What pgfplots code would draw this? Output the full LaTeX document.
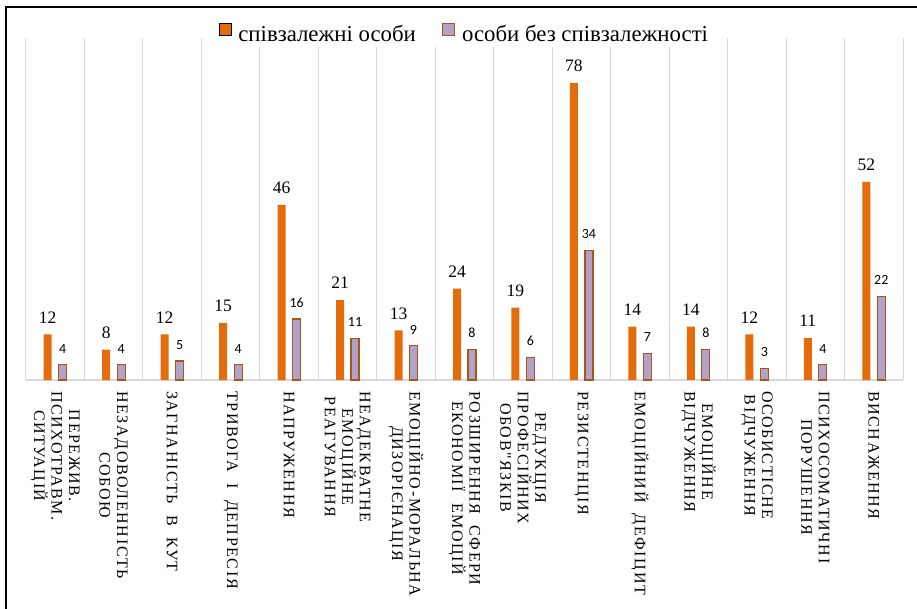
\documentclass[border=0pt]{standalone}
\usepackage{fontspec}
\usepackage{pgfplots}
\pgfplotsset{compat=1.18}
\setmainfont{Liberation Serif}
\newfontfamily\lblfont[LetterSpace=10]{Liberation Serif}
\newfontfamily\calfont{Carlito}
\definecolor{myorange}{HTML}{E46C0A}
\definecolor{mypurple}{HTML}{B3A2C7}
\definecolor{myborder}{HTML}{A8561C}
\definecolor{mygrid}{HTML}{D9D9D9}
\begin{document}
\begin{tikzpicture}
\useasboundingbox (-26pt,-228pt) rectangle (891pt,380pt);
\begin{axis}[
  at={(0pt,0pt)}, anchor=south west,
  scale only axis, width=877pt, height=342pt,
  xmin=-0.5, xmax=14.5, ymin=0, ymax=89.8,
  /pgf/number format/assume math mode=true,
  axis x line*=bottom, axis y line=none,
  x axis line style={draw=mygrid, line width=1.3pt},
  ytick=\empty,
  xtick={0,...,14},
  major tick length=0pt,
  minor xtick={-0.5,0.5,...,14.5},
  xminorgrids, minor tick length=0pt,
  minor grid style={draw=mygrid, line width=1pt},
  xticklabels={{ПЕРЕЖИВ.\\ПСИХОТРАВМ.\\СИТУАЦІЙ},{НЕЗАДОВОЛЕННІСТЬ\\СОБОЮ},{ЗАГНАНІСТЬ \ В \ КУТ},{ТРИВОГА \ І \ ДЕПРЕСІЯ},{НАПРУЖЕННЯ},{НЕАДЕКВАТНЕ\\ЕМОЦІЙНЕ\\РЕАГУВАННЯ},{ЕМОЦІЙНО-МОРАЛЬНА\\ДИЗОРІЄНАЦІЯ},{РОЗШИРЕННЯ \ СФЕРИ\\ЕКОНОМІЇ \ ЕМОЦІЙ},{РЕДУКЦІЯ\\ПРОФЕСІЙНИХ\\ОБОВ"ЯЗКІВ},{РЕЗИСТЕНЦІЯ},{ЕМОЦІЙНИЙ \ ДЕФІЦИТ},{ЕМОЦІЙНЕ\\ВІДЧУЖЕННЯ},{ОСОБИСТІСНЕ\\ВІДЧУЖЕННЯ},{ПСИХОСОМАТИЧНІ\\ПОРУШЕННЯ},{ВИСНАЖЕННЯ}},
  xticklabel style={rotate=-90, anchor=west, align=center, inner sep=0pt,
    font=\lblfont\fontsize{16}{17.5}\selectfont},
  xticklabel shift=11pt,
  ybar, bar width=8pt,
  every axis plot post/.append style={legend image code/.code={\draw[##1,/tikz/.cd,yshift=0pt] (0pt,-1pt) rectangle (12pt,11pt);}},
  legend style={at={(0.5,1)}, anchor=center, yshift=4pt, draw=none, fill=white,
    legend columns=2, font=\fontsize{22.8}{26}\selectfont,
    nodes={inner sep=2pt},
    /tikz/every even column/.append style={column sep=24pt},
    /tikz/every odd column/.append style={column sep=5pt}},
  legend cell align=left,
]
\addplot[fill=myorange, draw=none, bar shift=-7.5pt,
  nodes near coords,
  every node near coord/.append style={font=\fontsize{17.5}{20}\selectfont, anchor=south, inner sep=0pt, yshift=11pt, text=black}]
  coordinates {(0,12) (1,8) (2,12) (3,15) (4,46) (5,21) (6,13) (7,24) (8,19) (9,78) (10,14) (11,14) (12,12) (13,11) (14,52)};
\addlegendentry{співзалежні особи}
\addplot[fill=mypurple, draw=myborder, line width=1.2pt, bar shift=7.5pt,
  nodes near coords,
  every node near coord/.append style={font=\calfont\fontsize{14}{16}\selectfont, anchor=south, inner sep=0pt, yshift=11pt, text=black}]
  coordinates {(0,4) (1,4) (2,5) (3,4) (4,16) (5,11) (6,9) (7,8) (8,6) (9,34) (10,7) (11,8) (12,3) (13,4) (14,22)};
\addlegendentry{особи без співзалежності}
\end{axis}
\draw[line width=2.5pt] (-20pt,-230pt) -- (-20pt,373pt) -- (893pt,373pt);
\end{tikzpicture}
\end{document}
